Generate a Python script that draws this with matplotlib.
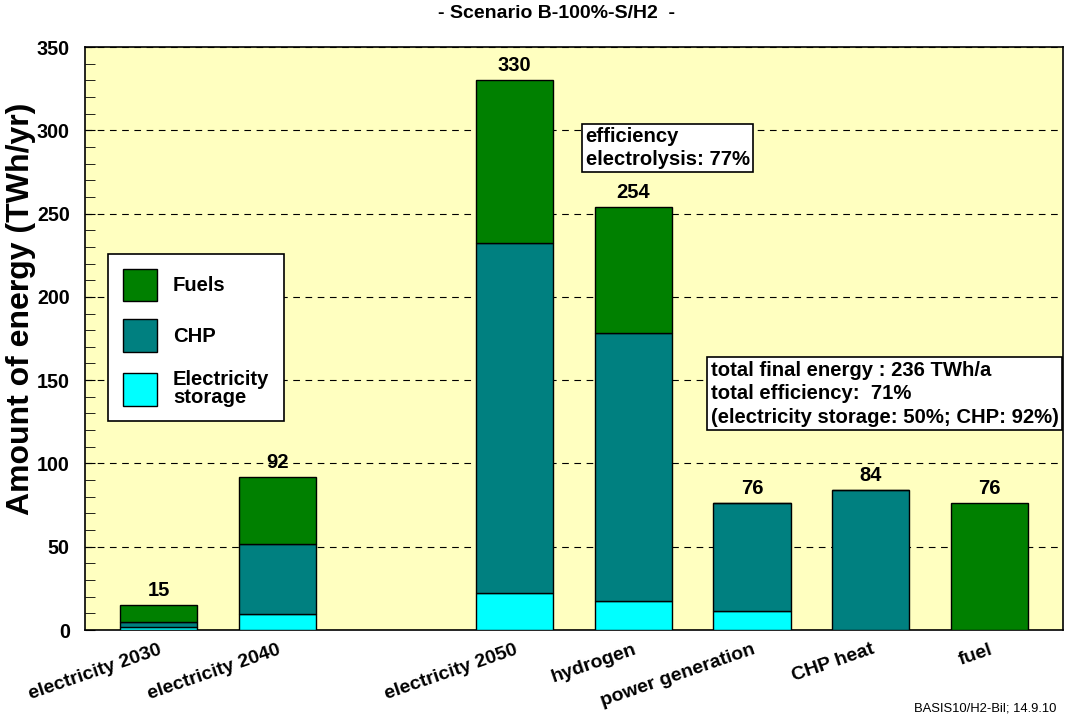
import matplotlib.pyplot as plt
import numpy as np
from matplotlib.patches import Patch

plt.rcParams['font.family'] = ['Liberation Sans', 'DejaVu Sans']
plt.rcParams['font.weight'] = 'bold'

# Data (TWh/yr)
categories = ['electricity 2030', 'electricity 2040', 'electricity 2050',
              'hydrogen', 'power generation', 'CHP heat', 'fuel']
positions = [0, 1, 3, 4, 5, 6, 7]
storage = [2, 9.5, 22.5, 17.5, 11.5, 0, 0]
chp = [3, 42, 210, 161, 64.5, 84, 0]
fuels = [10, 40.5, 97.5, 75.5, 0, 0, 76]
totals = [15, 92, 330, 254, 76, 84, 76]

c_fuels = '#008000'
c_chp = '#008080'
c_storage = '#00FFFF'

fig = plt.figure(figsize=(10.65, 7.2), dpi=100)
ax = fig.add_axes([0.0798, 0.125, 0.9183, 0.8097])
ax.set_facecolor('#FFFFC0')

width = 0.65
storage = np.array(storage)
chp = np.array(chp)
fuels = np.array(fuels)
ax.bar(positions, storage, width, color=c_storage, edgecolor='black', linewidth=1, zorder=3)
ax.bar(positions, chp, width, bottom=storage, color=c_chp, edgecolor='black', linewidth=1, zorder=3)
ax.bar(positions, fuels, width, bottom=storage + chp, color=c_fuels, edgecolor='black', linewidth=1, zorder=3)

for p, t in zip(positions, totals):
    ax.text(p, t + 3, str(t), ha='center', va='bottom', fontsize=14.5, fontweight='bold')

ax.set_xlim(-0.62, 7.62)
ax.set_ylim(0, 350)
ax.set_yticks(np.arange(0, 351, 50))
ax.set_yticks(np.arange(0, 351, 10), minor=True)
ax.tick_params(axis='y', which='both', direction='in', length=7, labelsize=14.2, pad=11)
ax.tick_params(axis='x', length=0, labelsize=14, pad=8)
ax.set_xticks(positions)
ax.set_xticklabels(categories, rotation=19, ha='right', rotation_mode='anchor', fontweight='bold')
for lab in ax.get_yticklabels():
    lab.set_fontweight('bold')

for y in range(50, 351, 50):
    ax.axhline(y, color='black', linewidth=0.8, linestyle=(0, (6, 5)), zorder=1)

for s in ax.spines.values():
    s.set_linewidth(1.2)

fig.text(21 / 1065, 1 - 309 / 720, 'Amount of energy (TWh/yr)', rotation=90,
         ha='center', va='center', fontsize=23, fontweight='bold')
fig.text(556 / 1065, 1 - 13 / 720, '- Scenario B-100%-S/H2  -', ha='center', va='center',
         fontsize=14, fontweight='bold')

handles = [Patch(facecolor=c_fuels, edgecolor='black', label='Fuels'),
           Patch(facecolor=c_chp, edgecolor='black', label='CHP'),
           Patch(facecolor=c_storage, edgecolor='black', label='Electricity\nstorage')]
leg = ax.legend(handles=handles, loc='upper left', bbox_to_anchor=(0.0235, 0.645),
                fontsize=14.6, frameon=True, fancybox=False, edgecolor='black',
                framealpha=1, handlelength=1.72, handleheight=2.1, labelspacing=0.9,
                borderpad=0.72, handletextpad=0.77, borderaxespad=0)
leg.get_frame().set_linewidth(1.2)
for t in leg.get_texts():
    t.set_fontweight('bold')
    t.set_linespacing(0.9)

ax.text(0.512, 0.862, 'efficiency\nelectrolysis: 77%', transform=ax.transAxes,
        ha='left', va='top', fontsize=14.6, fontweight='bold', linespacing=1.22,
        bbox=dict(boxstyle='square,pad=0.17', facecolor='white', edgecolor='black', linewidth=1.2),
        zorder=5)
ax.text(0.6396, 0.462, 'total final energy : 236 TWh/a\ntotal efficiency:  71%\n(electricity storage: 50%; CHP: 92%)',
        transform=ax.transAxes, ha='left', va='top', fontsize=14.6, fontweight='bold',
        linespacing=1.3,
        bbox=dict(boxstyle='square,pad=0.17', facecolor='white', edgecolor='black', linewidth=1.2),
        zorder=5)

fig.text(0.992, 0.008, 'BASIS10/H2-Bil; 14.9.10', ha='right', va='bottom', fontsize=9.4,
         fontweight='normal')

fig.savefig('out.png', dpi=100)
